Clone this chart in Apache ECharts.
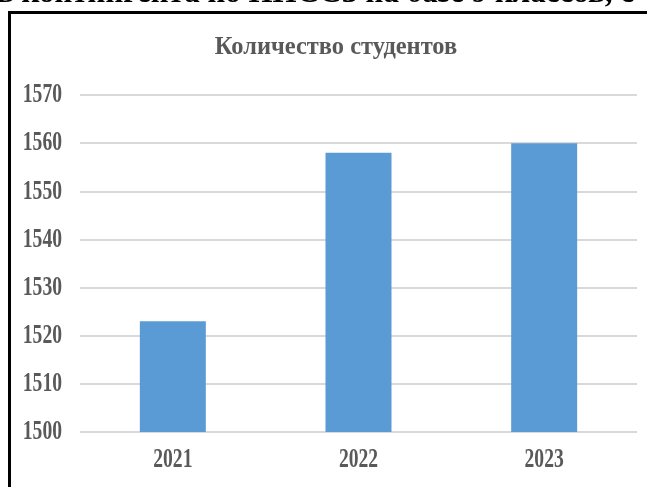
<!DOCTYPE html>
<html>
<head>
<meta charset="UTF-8">
<title></title>
<script type="text/javascript" src="https://cdn.jsdelivr.net/npm/echarts@6/dist/echarts.min.js"></script>
<style>
  html, body { margin: 0; padding: 0; background: #fff; }
</style>
</head>
<body>
<div id="main" style="width: 647px; height: 487px;"></div>
<script type="text/javascript">
    // данные
    var years = ['2021', '2022', '2023'];
    var students = [1523, 1558, 1560];
    var yTickLabels = ['1500', '1510', '1520', '1530', '1540', '1550', '1560', '1570'];

    var chart = echarts.init(document.getElementById('main'));
    var serif = '"Liberation Serif", "Times New Roman", serif';
    var labelColor = '#595959';

    var option = {
        backgroundColor: '#fff',
        animation: false,
        grid: {
            left: 80,
            right: 10,
            top: 95,
            bottom: 55
        },
        xAxis: {
            type: 'category',
            data: years,
            axisLine: { show: false },
            axisTick: { show: false },
            axisLabel: { show: false }
        },
        yAxis: {
            type: 'value',
            min: Number(yTickLabels[0]),
            max: Number(yTickLabels[yTickLabels.length - 1]),
            interval: Number(yTickLabels[1]) - Number(yTickLabels[0]),
            axisLine: { show: false },
            axisTick: { show: false },
            axisLabel: { show: false },
            splitLine: { lineStyle: { color: '#d9d9d9', width: 2 } }
        },
        series: [{
            name: 'Количество студентов',
            type: 'bar',
            barWidth: 66,
            itemStyle: { color: '#5b9bd5' },
            data: students
        }]
    };

    chart.setOption(option);

    // заголовок и подписи осей: узкий высокий шрифт как на картинке
    var graphics = [
        {
            type: 'text',
            x: -3,
            y: 9,
            style: {
                text: 'в контингента по ППССЗ на базе 9 классов, с',
                fontFamily: serif,
                fontWeight: 'bold',
                fontSize: 31,
                fill: '#000',
                verticalAlign: 'bottom'
            }
        },
        {
            type: 'rect',
            shape: { x: 9.5, y: 12.5, width: 700, height: 600 },
            style: { fill: null, stroke: '#000', lineWidth: 3 }
        },
        {
            type: 'text',
            x: 336,
            y: 47,
            scaleX: 0.94,
            style: {
                text: 'Количество студентов',
                fontFamily: serif,
                fontWeight: 'bold',
                fontSize: 26,
                fill: labelColor,
                align: 'center',
                verticalAlign: 'middle'
            }
        }
    ];

    yTickLabels.forEach(function (t) {
        var py = chart.convertToPixel({ yAxisIndex: 0 }, Number(t));
        graphics.push({
            type: 'text',
            x: 62,
            y: py,
            scaleX: 0.7,
            style: {
                text: t,
                fontFamily: serif,
                fontWeight: 'bold',
                fontSize: 28,
                fill: labelColor,
                align: 'right',
                verticalAlign: 'middle'
            }
        });
    });

    years.forEach(function (c) {
        var px = chart.convertToPixel({ xAxisIndex: 0 }, c);
        graphics.push({
            type: 'text',
            x: px,
            y: 460,
            scaleX: 0.7,
            style: {
                text: c,
                fontFamily: serif,
                fontWeight: 'bold',
                fontSize: 28,
                fill: labelColor,
                align: 'center',
                verticalAlign: 'middle'
            }
        });
    });

    chart.setOption({ graphic: graphics });
</script>
</body>
</html>
